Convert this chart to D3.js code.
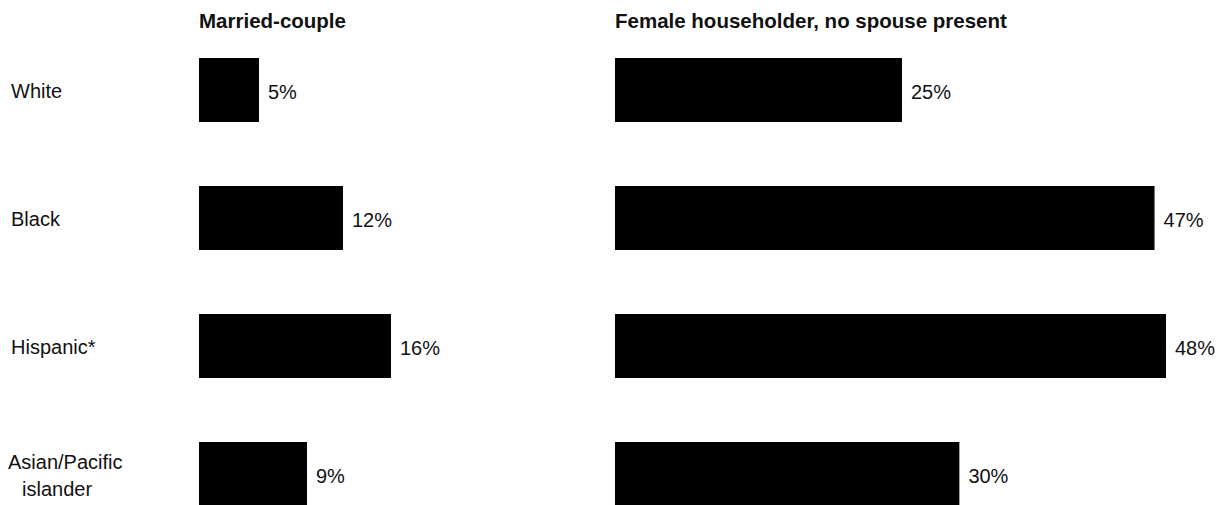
<!DOCTYPE html>
<html>
<head>
    <meta charset="utf-8">
    <title>Households by type</title>
    <script src="https://cdnjs.cloudflare.com/ajax/libs/d3/7.8.5/d3.min.js"></script>
</head>
<body>
<style>
    body { margin: 0; background: #fff; }
    text { font-family: "Liberation Sans", Arial, sans-serif; fill: #111; }
</style>
<script>
    const categories = ["White", "Black", "Hispanic*", "Asian/Pacific\nislander"];
    const marriedCouple = [5, 12, 16, 9];
    const femaleHouseholder = [25, 47, 48, 30];
    const panelTitles = ["Married-couple", "Female householder, no spouse present"];

    const W = 1220, H = 505;
    const svg = d3.select("body").append("svg").attr("width", W).attr("height", H);

    const y = d3.scalePoint().domain(categories).range([90, 474]);
    const barH = 64;

    // each panel has its own scale, as in the printed original
    const panels = [
        {title: panelTitles[0], values: marriedCouple, x: d3.scaleLinear().domain([0, 16]).range([199, 391])},
        {title: panelTitles[1], values: femaleHouseholder, x: d3.scaleLinear().domain([0, 48]).range([615, 1166])}
    ];

    // row labels
    const labels = svg.append("g").selectAll("text").data(categories)
        .enter().append("text")
        .attr("font-size", 20);
    labels.each(function (d) {
        const lines = d.split("\n");
        const t = d3.select(this);
        lines.forEach((line, i) => {
            t.append("tspan")
                .attr("x", i === 0 ? (lines.length > 1 ? 8 : 11) : 22)
                .attr("y", y(d) + 8 + (i - (lines.length - 1) / 2) * 27)
                .text(line);
        });
    });

    panels.forEach(p => {
        const g = svg.append("g");
        g.append("text")
            .attr("x", p.x(0))
            .attr("y", 28)
            .attr("font-size", 20.5)
            .attr("font-weight", "bold")
            .text(p.title);

        g.selectAll("rect").data(p.values)
            .enter().append("rect")
            .attr("x", p.x(0))
            .attr("y", (d, i) => y(categories[i]) - barH / 2)
            .attr("width", d => p.x(d) - p.x(0))
            .attr("height", barH)
            .attr("fill", "#000");

        g.selectAll("text.val").data(p.values)
            .enter().append("text")
            .attr("class", "val")
            .attr("x", d => p.x(d) + 9)
            .attr("y", (d, i) => y(categories[i]) + 9)
            .attr("font-size", 20)
            .text(d => d + "%");
    });
</script>
</body>
</html>
